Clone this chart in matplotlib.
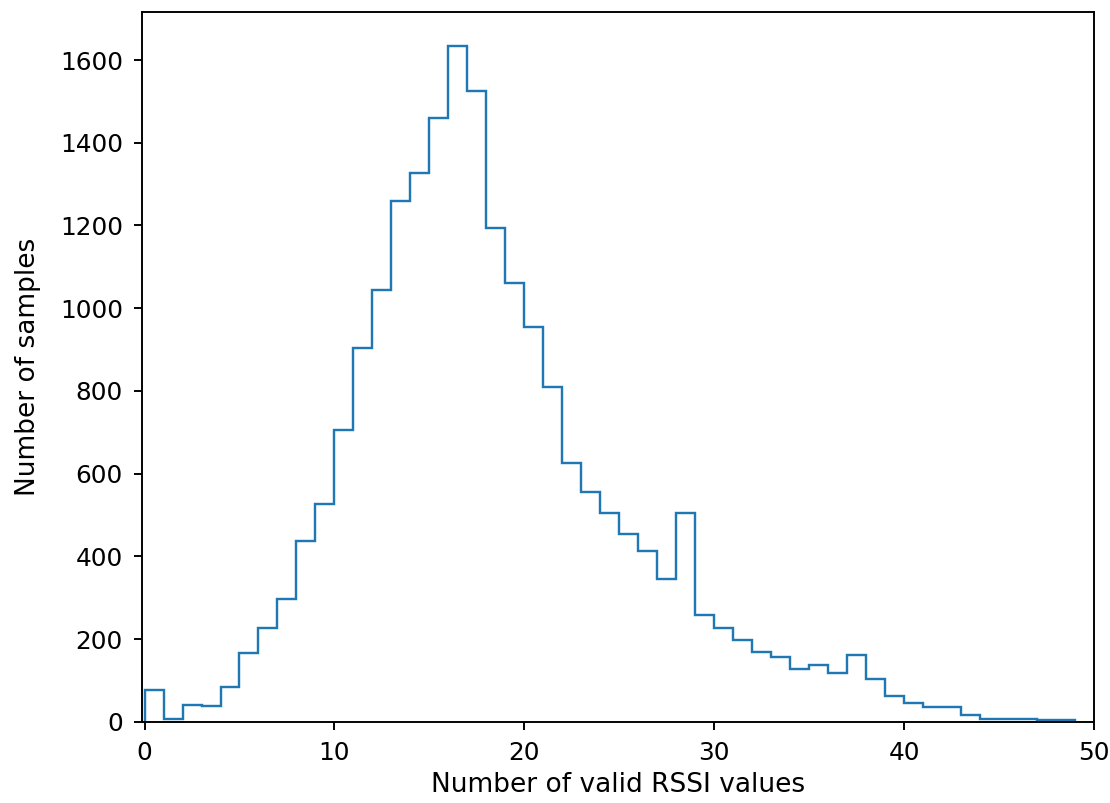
import matplotlib
matplotlib.use("Agg")
import matplotlib.pyplot as plt
import numpy as np

# Counts per bin (number of valid RSSI values 0..48)
bin_edges = np.arange(0, 50)
counts = [
    78, 8, 42, 38, 84, 167, 227, 297, 437, 527,
    706, 904, 1044, 1259, 1327, 1460, 1633, 1525, 1194, 1061,
    955, 810, 626, 556, 505, 454, 412, 346, 504, 258,
    226, 198, 169, 156, 127, 137, 118, 161, 103, 63,
    45, 35, 35, 16, 8, 8, 8, 4, 4,
]

x_label = "Number of valid RSSI values"
y_label = "Number of samples"

fig = plt.figure(figsize=(1110 / 173, 803 / 173), dpi=173)
ax = fig.add_axes([0.128, 0.101, 0.8576, 0.884])

ax.hist(bin_edges[:-1], bins=bin_edges, weights=counts, histtype="step")

ax.set_xlim(-0.13, 50)
ax.set_ylim(0, 1716)
ax.tick_params(axis="both", labelsize=10.3, pad=4.5)
ax.set_xlabel(x_label, fontsize=11, labelpad=3)
ax.set_ylabel(y_label, fontsize=11, labelpad=8)

fig.savefig("out.png", dpi=173)
